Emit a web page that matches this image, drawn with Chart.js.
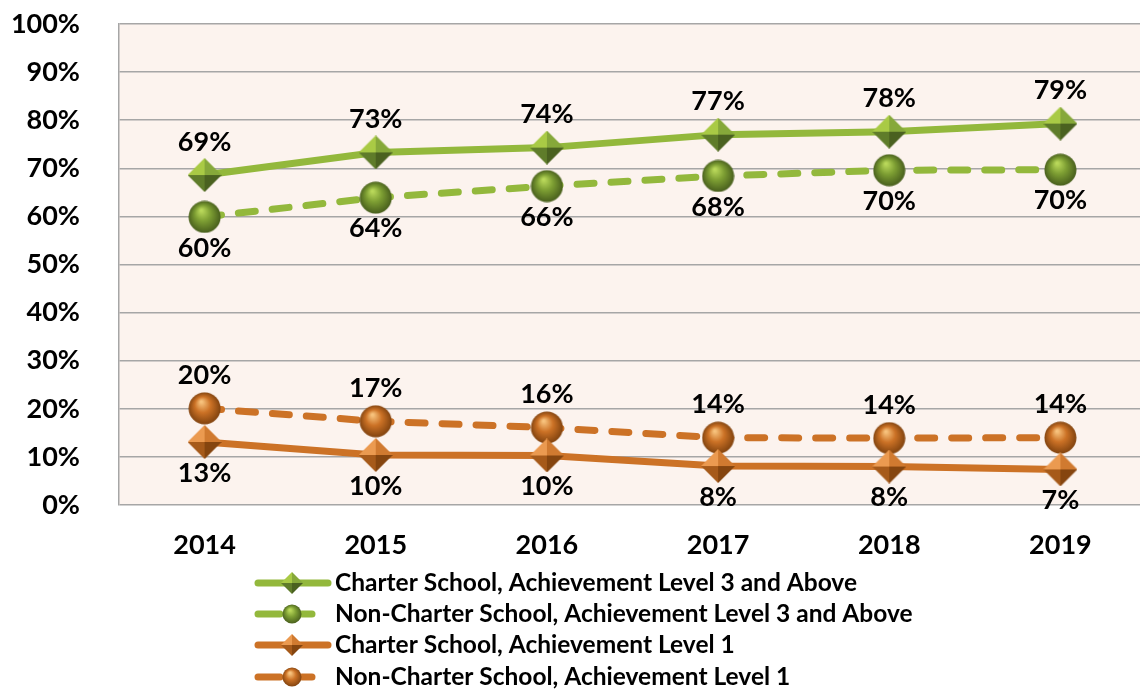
<!DOCTYPE html>
<html>
<head>
<meta charset="utf-8">
<script src="https://cdn.jsdelivr.net/npm/chart.js@4.4.1/dist/chart.umd.min.js"></script>
<style>
  html, body { margin: 0; padding: 0; background: #fff; overflow: hidden; }
  #wrap { width: 1170px; height: 689px; position: relative; }
</style>
</head>
<body>
<div id="wrap"><canvas id="chart"></canvas></div>
<script>
// data
const years = ["2014", "2015", "2016", "2017", "2018", "2019"];
const charterL3 = [68.6, 73.3, 74.3, 77.0, 77.6, 79.3];
const nonCharterL3 = [59.9, 63.9, 66.3, 68.4, 69.6, 69.7];
const charterL1 = [13.1, 10.4, 10.3, 8.1, 8.0, 7.4];
const nonCharterL1 = [20.1, 17.4, 16.1, 14.0, 13.9, 14.0];
const seriesNames = [
  "Charter School, Achievement Level 3 and Above",
  "Non-Charter School, Achievement Level 3 and Above",
  "Charter School, Achievement Level 1",
  "Non-Charter School, Achievement Level 1"
];

const GREEN = "#93b83c";
const ORANGE = "#cc7226";
const FONT = "Lato";

// shaded diamond marker (4 facets)
function makeDiamond(size, shades) {
  const c = document.createElement("canvas");
  c.width = size; c.height = size;
  const g = c.getContext("2d");
  const m = size / 2;
  const tri = (pts, col) => {
    g.beginPath();
    g.moveTo(pts[0][0], pts[0][1]);
    g.lineTo(pts[1][0], pts[1][1]);
    g.lineTo(pts[2][0], pts[2][1]);
    g.closePath();
    g.fillStyle = col;
    g.fill();
  };
  tri([[m, 0], [0, m], [m, m]], shades[0]);
  tri([[m, 0], [size, m], [m, m]], shades[1]);
  tri([[0, m], [m, size], [m, m]], shades[2]);
  tri([[size, m], [m, size], [m, m]], shades[3]);
  return c;
}

// shaded sphere marker
function makeSphere(size, stops) {
  const c = document.createElement("canvas");
  c.width = size; c.height = size;
  const g = c.getContext("2d");
  const r = size / 2;
  const grad = g.createRadialGradient(r * 0.8, r * 0.6, 1, r, r, r);
  grad.addColorStop(0, stops[0]);
  grad.addColorStop(0.45, stops[1]);
  grad.addColorStop(1, stops[2]);
  g.beginPath();
  g.arc(r, r, r - 0.5, 0, Math.PI * 2);
  g.fillStyle = grad;
  g.fill();
  return c;
}

const greenDia = ["#a9ca45", "#86a83a", "#5f7c2a", "#4a6120"];
const orangeDia = ["#eb9a50", "#d07a30", "#a65a1a", "#85450f"];
const greenSph = ["#b9d85a", "#7d9e33", "#465c1c"];
const orangeSph = ["#f7c27c", "#cc7226", "#7e410e"];

const markers = [
  makeDiamond(34, greenDia), makeSphere(33, greenSph),
  makeDiamond(34, orangeDia), makeSphere(33, orangeSph)
];
const legendMarkers = [
  makeDiamond(22, greenDia), makeSphere(20, greenSph),
  makeDiamond(22, orangeDia), makeSphere(20, orangeSph)
];

const plotBg = {
  id: "plotBg",
  beforeDraw(chart) {
    const a = chart.chartArea;
    const ctx = chart.ctx;
    ctx.save();
    ctx.fillStyle = "#fcf3ee";
    ctx.fillRect(a.left, a.top, a.right - a.left, a.bottom - a.top);
    ctx.restore();
  }
};

const valueLabels = {
  id: "valueLabels",
  afterDatasetsDraw(chart) {
    const ctx = chart.ctx;
    ctx.save();
    ctx.font = "bold 27px " + FONT;
    ctx.fillStyle = "#000";
    ctx.textAlign = "center";
    ctx.textBaseline = "middle";
    chart.data.datasets.forEach((ds, i) => {
      chart.getDatasetMeta(i).data.forEach((pt, j) => {
        const dy = ds.labelPos === "above" ? -33 : 31;
        ctx.fillText(Math.round(ds.data[j]) + "%", pt.x, pt.y + dy);
      });
    });
    ctx.restore();
  }
};

const bottomLegend = {
  id: "bottomLegend",
  afterDraw(chart) {
    const ctx = chart.ctx;
    const rows = [583, 614, 645, 677];
    ctx.save();
    chart.data.datasets.forEach((ds, i) => {
      const y = rows[i];
      ctx.strokeStyle = ds.borderColor;
      ctx.lineWidth = 7;
      ctx.lineCap = "round";
      ctx.beginPath();
      if (ds.borderDash.length) {
        ctx.moveTo(258, y); ctx.lineTo(280, y);
        ctx.moveTo(302, y); ctx.lineTo(312, y);
      } else {
        ctx.moveTo(258, y); ctx.lineTo(328, y);
      }
      ctx.stroke();
      const mk = legendMarkers[i];
      ctx.drawImage(mk, 292 - mk.width / 2, y - mk.height / 2);
      ctx.font = "bold 24.5px " + FONT;
      ctx.fillStyle = "#000";
      ctx.textAlign = "left";
      ctx.textBaseline = "middle";
      ctx.fillText(ds.label, 335, y);
    });
    ctx.restore();
  }
};

function series(idx, values, color, dashed, pos) {
  return {
    label: seriesNames[idx],
    data: values,
    borderColor: color,
    backgroundColor: color,
    borderWidth: 7,
    borderDash: dashed ? [17, 17] : [],
    borderCapStyle: "round",
    pointStyle: markers[idx],
    pointRadius: 17,
    tension: 0,
    labelPos: pos
  };
}

new Chart(document.getElementById("chart"), {
  type: "line",
  data: {
    labels: years,
    datasets: [
      series(0, charterL3, GREEN, false, "above"),
      series(1, nonCharterL3, GREEN, true, "below"),
      series(2, charterL1, ORANGE, false, "below"),
      series(3, nonCharterL1, ORANGE, true, "above")
    ]
  },
  options: {
    responsive: true,
    maintainAspectRatio: false,
    animation: false,
    layout: { padding: { top: 23, right: 2, left: 0, bottom: 0 } },
    plugins: {
      legend: { display: false },
      tooltip: { enabled: false }
    },
    scales: {
      x: {
        offset: true,
        grid: { display: false, drawTicks: false },
        border: { display: false },
        ticks: {
          color: "#000",
          padding: 24,
          font: { family: FONT, weight: "bold", size: 27 }
        },
        afterFit(s) {
          s.height = 184;
          s.paddingLeft = 0;
          s.paddingRight = 0;
        }
      },
      y: {
        min: 0,
        max: 100,
        ticks: {
          stepSize: 10,
          color: "#000",
          padding: 39,
          callback: v => v + "%",
          font: { family: FONT, weight: "bold", size: 27 }
        },
        grid: { color: "#a6a6a6", lineWidth: 1.5, drawTicks: false },
        border: { color: "#a6a6a6", width: 1.5 },
        afterFit(s) {
          s.width = 119;
          s.paddingTop = 0;
          s.paddingBottom = 0;
        }
      }
    }
  },
  plugins: [plotBg, valueLabels, bottomLegend]
});
</script>
</body>
</html>
